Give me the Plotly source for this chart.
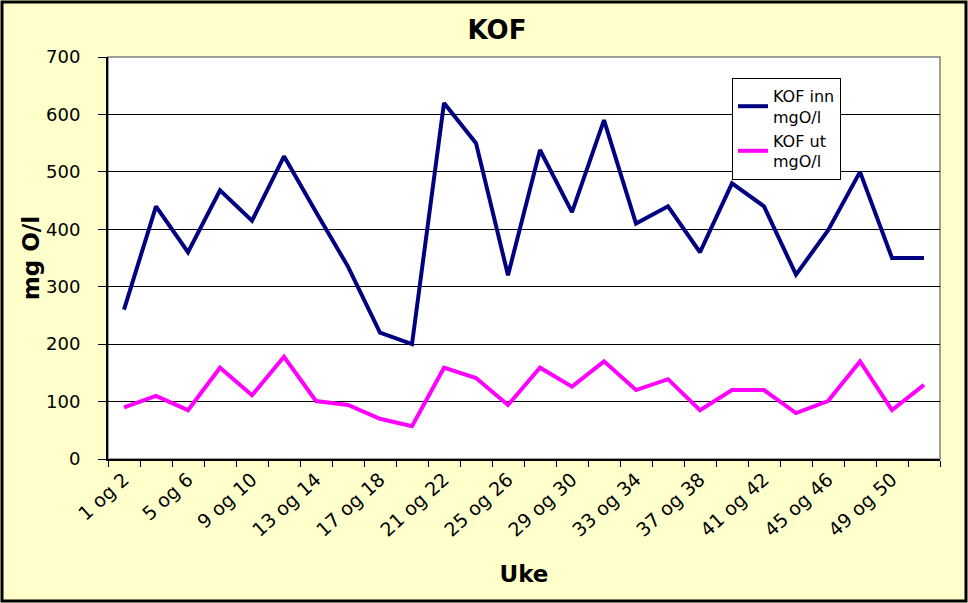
import plotly.graph_objects as go

weeks = ["1 og 2", "3 og 4", "5 og 6", "7 og 8", "9 og 10", "11 og 12", "13 og 14",
         "15 og 16", "17 og 18", "19 og 20", "21 og 22", "23 og 24", "25 og 26",
         "27 og 28", "29 og 30", "31 og 32", "33 og 34", "35 og 36", "37 og 38",
         "39 og 40", "41 og 42", "43 og 44", "45 og 46", "47 og 48", "49 og 50",
         "51 og 52"]
kof_inn = [260, 440, 360, 468, 415, 527, 430, 335, 220, 200, 620, 550, 320, 538,
           430, 590, 410, 440, 360, 480, 440, 321, 398, 500, 350, 350]
kof_ut = [90, 110, 85, 159, 111, 178, 101, 94, 70, 57, 159, 141, 94, 159, 126,
          170, 120, 139, 85, 120, 120, 80, 101, 170, 85, 129]

idx = list(range(len(weeks)))

fig = go.Figure()
fig.add_trace(go.Scatter(x=idx, y=kof_inn, mode="lines", name="KOF inn<br>mgO/l",
                         line=dict(color="#000080", width=4)))
fig.add_trace(go.Scatter(x=idx, y=kof_ut, mode="lines", name="KOF ut<br>mgO/l",
                         line=dict(color="#FF00FF", width=4)))

font_family = "DejaVu Sans, Arial, sans-serif"

fig.update_layout(
    width=968, height=603,
    margin=dict(l=108, r=28, t=57, b=144),
    paper_bgcolor="#FFFFCC",
    plot_bgcolor="#FFFFFF",
    font=dict(family=font_family, color="black", size=16),
    title=dict(text="<b>KOF</b>", x=497/968, xref="container", xanchor="center",
               y=1-30/603, yref="container", yanchor="middle",
               font=dict(size=26, family=font_family, color="black")),
    showlegend=True,
    legend=dict(x=0.75, y=0.948, xanchor="left", yanchor="top",
                bgcolor="white", bordercolor="black", borderwidth=1,
                font=dict(size=16, family=font_family, color="black"),
                tracegroupgap=0, itemwidth=30, entrywidth=150,
                entrywidthmode="pixels"),
    xaxis=dict(
        range=[-0.5, len(weeks) - 0.5],
        tickmode="array", tickvals=idx[::2], ticktext=weeks[::2],
        tickangle=-42, ticks="", showgrid=False, zeroline=False,
        showline=True, linecolor="black", linewidth=2,
        tickfont=dict(size=19),
        minor=dict(tick0=-0.5, dtick=1, ticks="outside", ticklen=6,
                   tickcolor="black", tickwidth=1, showgrid=False),
        title=dict(text="<b>Uke</b>", font=dict(size=23), standoff=26),
    ),
    yaxis=dict(
        range=[0, 700], dtick=100, tick0=0,
        ticks="outside", ticklen=8, tickcolor="black",
        ticklabelstandoff=14,
        showgrid=True, gridcolor="black", gridwidth=1,
        zeroline=False, showline=True, linecolor="black", linewidth=2,
        tickfont=dict(size=18),
        title=dict(text="<b>mg O/l</b>", font=dict(size=23), standoff=0),
    ),
    shapes=[
        dict(type="rect", xref="x domain", yref="y domain", x0=0, x1=1, y0=0, y1=1,
             line=dict(color="#808080", width=1.5), layer="below"),
        dict(type="rect", xref="paper", yref="paper",
             x0=-106/832, x1=1+26/832, y0=-142/402, y1=1+55/402,
             line=dict(color="black", width=3), layer="below"),
    ],
)

fig.write_html("out.html")
